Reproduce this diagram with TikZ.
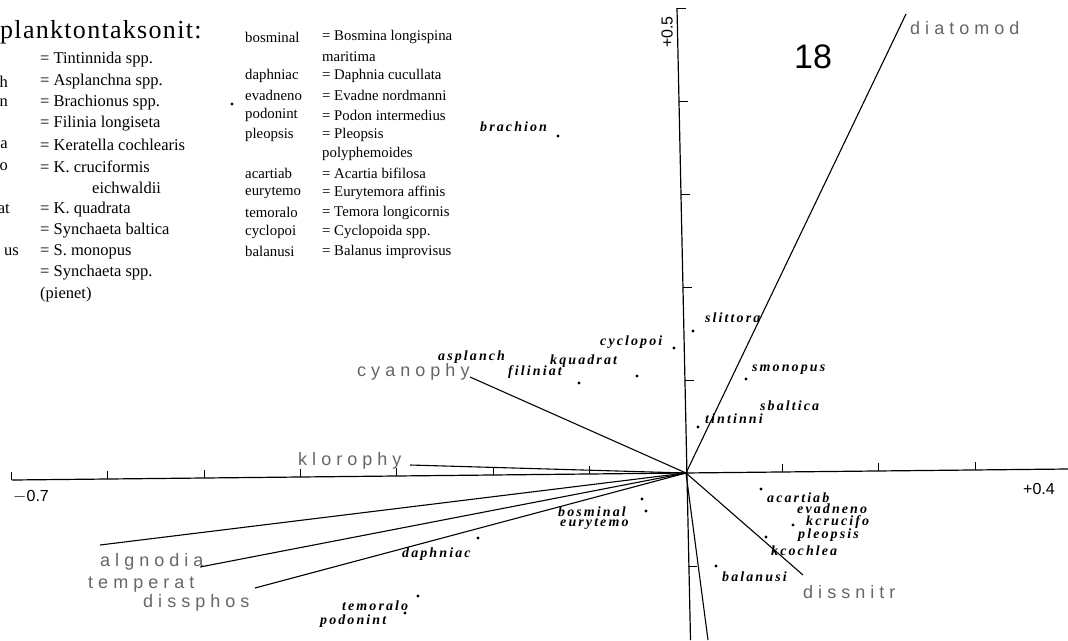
\documentclass[tikz,border=0pt]{standalone}
\usepackage{fontspec}
\setmainfont{Liberation Serif}
\newfontfamily\envfont[LetterSpace=28]{Liberation Sans}
\newfontfamily\spfont[LetterSpace=15]{Liberation Serif}
\newfontfamily\ttlfont[LetterSpace=5]{Liberation Serif}
\newfontfamily\axfont{Liberation Sans}
\begin{document}
\begin{tikzpicture}[x=1pt,y=-1pt,
  envline/.style={line width=1.1pt},
  axline/.style={line width=1.2pt},
  envlab/.style={font=\envfont\fontsize{18}{18}\selectfont, text=black!60, inner sep=0, anchor=west},
  splab/.style={font=\spfont\bfseries\itshape\fontsize{14}{14}\selectfont, inner sep=0, anchor=west},
  spdot/.style={circle, fill=black, inner sep=0, minimum size=3.2pt},
  legl/.style={font=\fontsize{16.5}{18}\selectfont, anchor=west, inner sep=0},
  legr/.style={font=\fontsize{14.8}{17}\selectfont, anchor=west, inner sep=0},
  axlab/.style={font=\axfont\fontsize{16}{16}\selectfont, inner sep=0}]
\useasboundingbox (0,0) rectangle (1068,640);
\fill[white] (0,0) rectangle (1068,640);

% ---------- legend ----------
\node[anchor=west, inner sep=0, font=\ttlfont\fontsize{26}{26}\selectfont] (title) at (0,32) {planktontaksonit:};
\node[legl, anchor=east] (fa) at (8,81.3) {h};
\node[legl, anchor=east] (fb) at (8,102.6) {n};
\node[legl, anchor=east] (fc) at (8,145.2) {a};
\node[legl, anchor=east] (fd) at (8,166.5) {o};
\node[legl, anchor=east] (fe) at (10,209.1) {at};
\node[legl, anchor=east] (ff) at (19,251.7) {us};
\node[legl] (l1) at (40,60) {= Tintinnida spp.};
\node[legl] (l2) at (40,81.3) {= Asplanchna spp.};
\node[legl] (l3) at (40,102.6) {= Brachionus spp.};
\node[legl] (l4) at (40,123.9) {= Filinia longiseta};
\node[legl] (l5) at (40,145.2) {= Keratella cochlearis};
\node[legl] (l6) at (40,166.5) {= K. cruciformis};
\node[legl] (l7) at (92,187.8) {eichwaldii};
\node[legl] (l8) at (40,209.1) {= K. quadrata};
\node[legl] (l9) at (40,230.4) {= Synchaeta baltica};
\node[legl] (l10) at (40,251.7) {= S. monopus};
\node[legl] (l11) at (40,273) {= Synchaeta spp.};
\node[legl] (l12) at (40,294.3) {(pienet)};

\node[legr] (r1a) at (245,37) {bosminal};
\node[legr] (r1b) at (322,37) {= Bosmina longispina};
\node[legr] (r2b) at (322,56.5) {maritima};
\node[legr] (r3a) at (245,76) {daphniac};
\node[legr] (r3b) at (322,76) {= Daphnia cucullata};
\node[legr] (r4a) at (245,95.5) {evadneno};
\node[legr] (r4b) at (322,95.5) {= Evadne nordmanni};
\node[legr] (r5a) at (245,115) {podonint};
\node[legr] (r5b) at (322,115) {= Podon intermedius};
\node[legr] (r6a) at (245,134.5) {pleopsis};
\node[legr] (r6b) at (322,134.5) {= Pleopsis};
\node[legr] (r7b) at (322,154) {polyphemoides};
\node[legr] (r8a) at (245,173.5) {acartiab};
\node[legr] (r8b) at (322,173.5) {= Acartia bifilosa};
\node[legr] (r9a) at (245,193) {eurytemo};
\node[legr] (r9b) at (322,193) {= Eurytemora affinis};
\node[legr] (r10a) at (245,212.5) {temoralo};
\node[legr] (r10b) at (322,212.5) {= Temora longicornis};
\node[legr] (r11a) at (245,232) {cyclopoi};
\node[legr] (r11b) at (322,232) {= Cyclopoida spp.};
\node[legr] (r12a) at (245,251.5) {balanusi};
\node[legr] (r12b) at (322,251.5) {= Balanus improvisus};

% ---------- axes ----------
\coordinate (O) at (686,473);
\coordinate (hL) at (12,480);
\coordinate (hR) at (1068,469);
\coordinate (vT) at (677,8);
\coordinate (vB) at (690.5,640);
\draw[axline] (hL) -- (hR);
\draw[axline] (vT) -- (vB);
\foreach \k in {-7,...,3} {
  \pgfmathsetmacro{\tx}{686+96.4*\k}
  \pgfmathsetmacro{\ty}{473-0.0104*96.4*\k}
  \draw[line width=1pt] (\tx,\ty) -- (\tx,\ty-8);
}
\foreach \k in {-1,1,2,3,4,5} {
  \pgfmathsetmacro{\ty}{473-93*\k}
  \pgfmathsetmacro{\tx}{686.5-0.0205*93*\k}
  \draw[line width=1pt] (\tx,\ty) -- (\tx+9,\ty);
}
\node[axlab, anchor=west] (xmin) at (13,497) {$-$0.7};
\node[axlab, anchor=west] (xmax) at (1023,489) {+0.4};
\node[axlab, rotate=90] (ymax) at (667,32) {+0.5};
\node[font=\axfont\fontsize{34}{34}\selectfont, inner sep=0] (num) at (813,57) {18};

% ---------- environmental vectors ----------
\coordinate (eDia) at (906,14);
\coordinate (eCya) at (470,377);
\coordinate (eKlo) at (410,465);
\coordinate (eA) at (100,545);
\coordinate (eB) at (200,567);
\coordinate (eC) at (255,588);
\coordinate (eNit) at (803,575);
\coordinate (eBot) at (708,640);
\foreach \e in {eDia,eCya,eKlo,eA,eB,eC,eNit,eBot} \draw[envline] (O) -- (\e);
\node[envlab] (tDia) at (910,28) {diatomod};
\node[envlab] (tCya) at (357,372) {cyanophy};
\node[envlab] (tKlo) at (298,461) {klorophy};
\node[envlab] (tAlg) at (100,562) {algnodia};
\node[envlab] (tTem) at (88,585) {temperat};
\node[envlab] (tPho) at (143,603) {dissphos};
\node[envlab] (tNit) at (803,592) {dissnitr};

% ---------- species ----------
\node[spdot] (dBra) at (558,136) {};
\node[splab] (sBra) at (480,127) {brachion};
\node[spdot] (dX) at (232,104) {};
\node[spdot] (dSli) at (693,331) {};
\node[splab] (sSli) at (705,318) {slittora};
\node[spdot] (dCyc) at (674,348) {};
\node[splab] (sCyc) at (600,342) {cyclopoi};
\node[spdot] (dKqu) at (637,376) {};
\node[splab] (sKqu) at (550,361) {kquadrat};
\node[spdot] (dFil) at (579,383) {};
\node[splab] (sFil) at (508,372) {filiniat};
\node[splab] (sAsp) at (438,357) {asplanch};
\node[spdot] (dSmo) at (746,379) {};
\node[splab] (sSmo) at (752,370) {smonopus};
\node[splab] (sSba) at (760,406) {sbaltica};
\node[spdot] (dTin) at (698,427) {};
\node[splab] (sTin) at (705,419) {tintinni};
\node[spdot] (dBos) at (642,499) {};
\node[spdot] (dEur) at (646,511) {};
\node[splab] (sBos) at (558,512) {bosminal};
\node[splab] (sEur) at (560,524) {eurytemo};
\node[spdot] (dDap) at (478,538) {};
\node[splab] (sDap) at (402,554) {daphniac};
\node[spdot] (dTem) at (418,596) {};
\node[splab] (sTem) at (342,606) {temoralo};
\node[spdot] (dPod) at (405,613) {};
\node[splab] (sPod) at (320,621) {podonint};
\node[spdot] (dAca) at (761,489) {};
\node[splab] (sAca) at (767,498) {acartiab};
\node[splab] (sEva) at (797,509) {evadneno};
\node[spdot] (dKcr) at (793,525) {};
\node[splab] (sKcr) at (806,522) {kcrucifo};
\node[splab] (sPle) at (798,535) {pleopsis};
\node[spdot] (dKco) at (766,537) {};
\node[splab] (sKco) at (771,551) {kcochlea};
\node[spdot] (dBal) at (716,566) {};
\node[splab] (sBal) at (722,577) {balanusi};
\end{tikzpicture}
\end{document}
